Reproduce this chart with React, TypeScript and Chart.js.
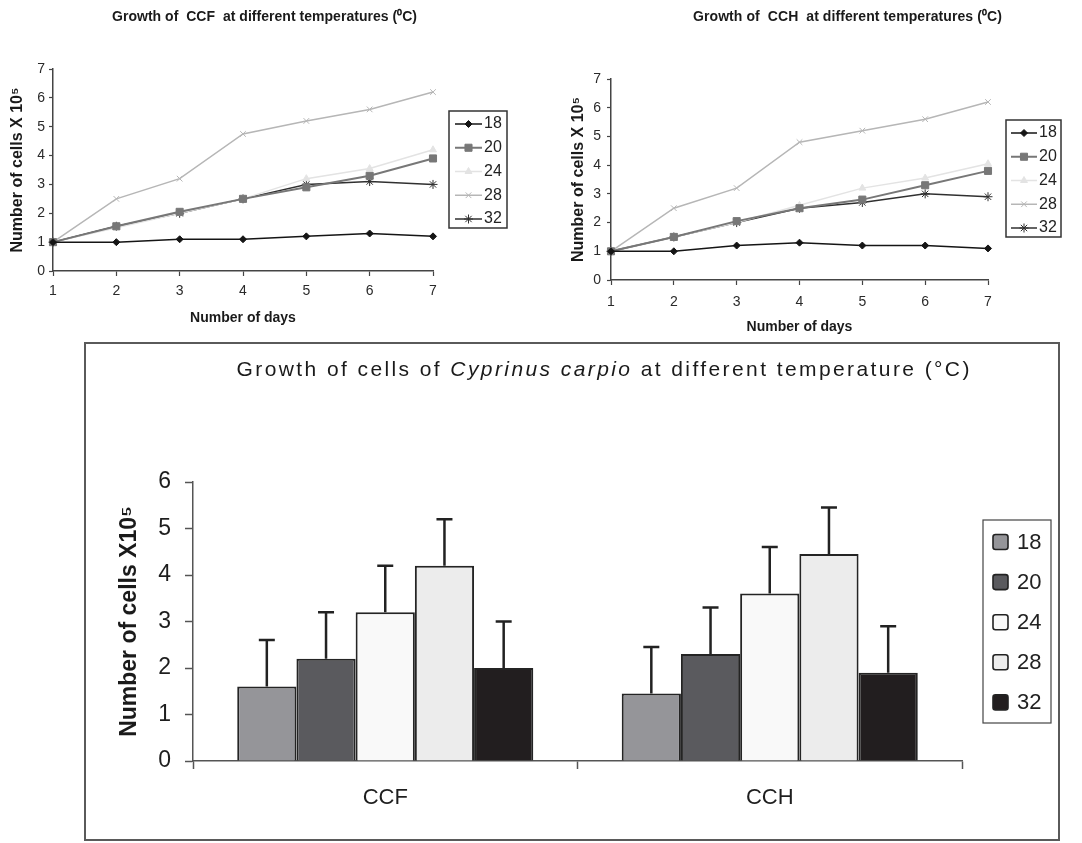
import React, { useEffect, useRef } from "react";
import { Chart, registerables } from "chart.js";
import { drawPoint } from "chart.js/helpers";

Chart.register(...registerables);

const FONT = "'Liberation Sans', Arial, Helvetica, sans-serif";

// ---------- data ----------
const days = ["1", "2", "3", "4", "5", "6", "7"];
const temperatures = ["18", "20", "24", "28", "32"];

// CCF growth (cells x 10^5) per day
const ccf18 = [1.0, 1.0, 1.1, 1.1, 1.2, 1.3, 1.2];
const ccf20 = [1.0, 1.55, 2.05, 2.5, 2.9, 3.3, 3.9];
const ccf24 = [1.0, 1.5, 2.0, 2.5, 3.2, 3.55, 4.2];
const ccf28 = [1.0, 2.5, 3.2, 4.75, 5.2, 5.6, 6.2];
const ccf32 = [1.0, 1.55, 2.0, 2.5, 3.0, 3.1, 3.0];

// CCH growth (cells x 10^5) per day
const cch18 = [1.0, 1.0, 1.2, 1.3, 1.2, 1.2, 1.1];
const cch20 = [1.0, 1.5, 2.05, 2.5, 2.8, 3.3, 3.8];
const cch24 = [1.0, 1.5, 2.0, 2.6, 3.2, 3.55, 4.05];
const cch28 = [1.0, 2.5, 3.2, 4.8, 5.2, 5.6, 6.2];
const cch32 = [1.0, 1.5, 2.0, 2.5, 2.7, 3.0, 2.9];

// Bar chart: mean cells x 10^5 per cell line
const cellLines = ["CCF", "CCH"];
const bar18 = [1.6, 1.45];
const bar20 = [2.2, 2.3];
const bar24 = [3.2, 3.6];
const bar28 = [4.2, 4.45];
const bar32 = [2.0, 1.9];
const err18 = [1.0, 1.0];
const err20 = [1.0, 1.0];
const err24 = [1.0, 1.0];
const err28 = [1.0, 1.0];
const err32 = [1.0, 1.0];

const ccfSeries = [ccf18, ccf20, ccf24, ccf28, ccf32];
const cchSeries = [cch18, cch20, cch24, cch28, cch32];
const barSeries = [bar18, bar20, bar24, bar28, bar32];
const barErrors = [err18, err20, err24, err28, err32];

// ---------- styles ----------
const lineStyles = [
  { color: "#151515", pointStyle: "rectRot", radius: 3.5, width: 1.5 },
  { color: "#777777", pointStyle: "rect", radius: 5, width: 2 },
  { color: "#e3e3e3", pointStyle: "triangle", radius: 4, width: 1.5 },
  { color: "#b6b6b6", pointStyle: "crossRot", radius: 4, width: 1.5 },
  { color: "#303030", pointStyle: "star", radius: 4.5, width: 1.5 },
];
const barColors = ["#959599", "#5a5a5e", "#f9f9f9", "#ececec", "#221e1f"];

type Seg = { text: string; font: string };

function titlePlugin(segments: Seg[], cx: number, cy: number, targetWidth: number, color: string) {
  return {
    id: "richTitle",
    afterDraw(chart: any) {
      const ctx = chart.ctx as CanvasRenderingContext2D;
      ctx.save();
      ctx.textBaseline = "middle";
      ctx.textAlign = "left";
      ctx.fillStyle = color;
      (ctx as any).letterSpacing = "0px";
      let base = 0;
      let n = 0;
      for (const s of segments) {
        ctx.font = s.font;
        base += ctx.measureText(s.text).width;
        n += s.text.length;
      }
      const sp = (targetWidth - base) / n;
      (ctx as any).letterSpacing = sp.toFixed(2) + "px";
      let x = cx - targetWidth / 2;
      for (const s of segments) {
        ctx.font = s.font;
        ctx.fillText(s.text, x, cy);
        x += ctx.measureText(s.text).width;
      }
      ctx.restore();
    },
  };
}

type LegendBox = {
  x: number; y: number; w: number; h: number;
  first: number; step: number; lineX0: number; lineX1: number; textX: number; fontSize: number;
};

function lineLegendPlugin(b: LegendBox) {
  return {
    id: "lineLegend",
    afterDraw(chart: any) {
      const ctx = chart.ctx as CanvasRenderingContext2D;
      ctx.save();
      ctx.strokeStyle = "#333";
      ctx.lineWidth = 1.5;
      ctx.strokeRect(b.x, b.y, b.w, b.h);
      chart.data.datasets.forEach((ds: any, i: number) => {
        const y = b.y + b.first + i * b.step;
        ctx.strokeStyle = ds.borderColor;
        ctx.lineWidth = ds.borderWidth;
        ctx.beginPath();
        ctx.moveTo(b.x + b.lineX0, y);
        ctx.lineTo(b.x + b.lineX1, y);
        ctx.stroke();
        ctx.fillStyle = ds.pointBackgroundColor;
        ctx.strokeStyle = ds.pointBorderColor;
        ctx.lineWidth = 1;
        drawPoint(ctx, { pointStyle: ds.pointStyle, radius: ds.pointRadius, rotation: 0, borderWidth: 1 } as any,
          b.x + (b.lineX0 + b.lineX1) / 2, y);
        ctx.fillStyle = "#222";
        ctx.font = `${b.fontSize}px ${FONT}`;
        ctx.textBaseline = "middle";
        ctx.textAlign = "left";
        ctx.fillText(ds.label, b.x + b.textX, y);
      });
      ctx.restore();
    },
  };
}

function barLegendPlugin(b: { x: number; y: number; w: number; h: number; first: number; step: number; sq: number; sqX: number; textX: number; fontSize: number }) {
  return {
    id: "barLegend",
    afterDraw(chart: any) {
      const ctx = chart.ctx as CanvasRenderingContext2D;
      ctx.save();
      ctx.strokeStyle = "#444";
      ctx.lineWidth = 1.2;
      ctx.strokeRect(b.x, b.y, b.w, b.h);
      chart.data.datasets.forEach((ds: any, i: number) => {
        const y = b.y + b.first + i * b.step;
        ctx.beginPath();
        (ctx as any).roundRect(b.x + b.sqX, y - b.sq / 2, b.sq, b.sq, 2.5);
        ctx.fillStyle = ds.backgroundColor;
        ctx.fill();
        ctx.strokeStyle = "#222";
        ctx.lineWidth = 1.6;
        ctx.stroke();
        ctx.fillStyle = "#222";
        ctx.font = `${b.fontSize}px ${FONT}`;
        ctx.textBaseline = "middle";
        ctx.textAlign = "left";
        ctx.fillText(ds.label, b.x + b.textX, y + 1);
      });
      ctx.restore();
    },
  };
}

function errorBarPlugin(errors: number[][]) {
  return {
    id: "errorBars",
    afterDatasetsDraw(chart: any) {
      const ctx = chart.ctx as CanvasRenderingContext2D;
      const yScale = chart.scales.y;
      ctx.save();
      ctx.strokeStyle = "#222";
      ctx.lineWidth = 2.5;
      chart.data.datasets.forEach((ds: any, i: number) => {
        const meta = chart.getDatasetMeta(i);
        meta.data.forEach((el: any, j: number) => {
          const v = ds.data[j] as number;
          const e = errors[i][j];
          const x = el.x;
          const y0 = yScale.getPixelForValue(v);
          const y1 = yScale.getPixelForValue(v + e);
          ctx.beginPath();
          ctx.moveTo(x, y0);
          ctx.lineTo(x, y1);
          ctx.moveTo(x - 8, y1);
          ctx.lineTo(x + 8, y1);
          ctx.stroke();
        });
      });
      ctx.restore();
    },
  };
}

type LineGeom = {
  padTop: number; padRight: number; yWidth: number; xHeight: number;
  yTitlePad: number; yTickPad: number; xTickPad: number; xTitlePad: number;
};

function makeLineChart(canvas: HTMLCanvasElement, series: number[][], g: LineGeom, plugins: any[]) {
  return new Chart(canvas, {
    type: "line",
    data: {
      labels: days,
      datasets: temperatures.map((t, i) => ({
        label: t,
        data: series[i],
        borderColor: lineStyles[i].color,
        backgroundColor: lineStyles[i].color,
        pointBackgroundColor: lineStyles[i].color,
        pointBorderColor: lineStyles[i].color,
        pointStyle: lineStyles[i].pointStyle as any,
        pointRadius: lineStyles[i].radius,
        pointBorderWidth: 1,
        borderWidth: lineStyles[i].width,
        tension: 0,
        fill: false,
      })),
    },
    options: {
      responsive: false,
      animation: false,
      devicePixelRatio: 1,
      layout: { padding: { left: 0, top: g.padTop, right: g.padRight, bottom: 0 } },
      plugins: { legend: { display: false }, title: { display: false }, tooltip: { enabled: false } },
      scales: {
        x: {
          type: "category",
          offset: false,
          grid: { display: true, drawOnChartArea: false, drawTicks: true, tickLength: 5, color: "#444", tickColor: "#444", tickWidth: 1.2 },
          border: { display: true, color: "#444", width: 1.5 },
          ticks: { font: { family: FONT, size: 14 }, color: "#2a2a2a", padding: g.xTickPad, maxRotation: 0, autoSkip: false },
          title: { display: true, text: "Number of days", font: { family: FONT, size: 14, weight: "bold" }, color: "#1a1a1a", padding: { top: 0, bottom: g.xTitlePad } },
          afterFit(s: any) { s.height = g.xHeight; },
        },
        y: {
          min: 0,
          max: 7,
          grid: { display: true, drawOnChartArea: false, drawTicks: true, tickLength: 4, color: "#444", tickColor: "#444", tickWidth: 1.2 },
          border: { display: true, color: "#444", width: 1.5 },
          ticks: { stepSize: 1, font: { family: FONT, size: 14 }, color: "#2a2a2a", padding: g.yTickPad },
          title: { display: true, text: "Number of cells X 10⁵", font: { family: FONT, size: 16, weight: "bold" }, color: "#1a1a1a", padding: { top: g.yTitlePad, bottom: 0 } },
          afterFit(s: any) { s.width = g.yWidth; },
        },
      } as any,
    },
    plugins,
  });
}

export default function App() {
  const r1 = useRef<HTMLCanvasElement>(null);
  const r2 = useRef<HTMLCanvasElement>(null);
  const r3 = useRef<HTMLCanvasElement>(null);

  useEffect(() => {
    const charts: Chart[] = [];
    const topTitleFont = `bold 14px ${FONT}`;

    charts.push(
      makeLineChart(r1.current!, ccfSeries,
        { padTop: 69, padRight: 107, yWidth: 53, xHeight: 69, yTitlePad: 8, yTickPad: 4, xTickPad: 7, xTitlePad: 13 },
        [
          titlePlugin([{ text: "Growth of  CCF  at different temperatures (⁰C)", font: topTitleFont }], 264.5, 17, 305, "#1a1a1a"),
          lineLegendPlugin({ x: 449, y: 111, w: 58, h: 117, first: 13, step: 23.75, lineX0: 6, lineX1: 33, textX: 35, fontSize: 16 }),
        ])
    );

    charts.push(
      makeLineChart(r2.current!, cchSeries,
        { padTop: 79, padRight: 94, yWidth: 54, xHeight: 65, yTitlePad: 12, yTickPad: 6, xTickPad: 9, xTitlePad: 9 },
        [
          titlePlugin([{ text: "Growth of  CCH  at different temperatures (⁰C)", font: topTitleFont }], 290.5, 17, 309, "#1a1a1a"),
          lineLegendPlugin({ x: 449, y: 120, w: 55, h: 117, first: 13, step: 23.75, lineX0: 5, lineX1: 31, textX: 33, fontSize: 16 }),
        ])
    );

    charts.push(
      new Chart(r3.current!, {
        type: "bar",
        data: {
          labels: cellLines,
          datasets: temperatures.map((t, i) => ({
            label: t,
            data: barSeries[i],
            backgroundColor: barColors[i],
            borderColor: "#242424",
            borderWidth: 2,
            borderSkipped: "bottom",
            categoryPercentage: 0.77,
            barPercentage: 1,
          })),
        },
        options: {
          responsive: false,
          animation: false,
          devicePixelRatio: 1,
          layout: { padding: { left: 0, top: 138, right: 96, bottom: 0 } },
          plugins: { legend: { display: false }, title: { display: false }, tooltip: { enabled: false } },
          scales: {
            x: {
              offset: true,
              grid: { display: true, offset: true, drawOnChartArea: false, drawTicks: true, tickLength: 8, color: "#555", tickColor: "#555", tickWidth: 1.5 },
              border: { display: true, color: "#555", width: 1.5 },
              ticks: { font: { family: FONT, size: 22 }, color: "#1e1e1e", padding: 16 },
              afterFit(s: any) { s.height = 78; },
            },
            y: {
              min: 0,
              max: 6,
              grid: { display: true, drawOnChartArea: false, drawTicks: true, tickLength: 8, color: "#555", tickColor: "#555", tickWidth: 1.5 },
              border: { display: true, color: "#555", width: 1.5 },
              ticks: { stepSize: 1, font: { family: FONT, size: 23 }, color: "#1e1e1e", padding: 14 },
              title: { display: true, text: "Number of cells X10⁵", font: { family: FONT, size: 23, weight: "bold" }, color: "#1a1a1a", padding: { top: 30, bottom: 0 } },
              afterFit(s: any) { s.width = 107; },
            },
          } as any,
        },
        plugins: [
          errorBarPlugin(barErrors),
          titlePlugin(
            [
              { text: "Growth of cells of ", font: `21px ${FONT}` },
              { text: "Cyprinus carpio", font: `italic 21px ${FONT}` },
              { text: " at different temperature (°C)", font: `21px ${FONT}` },
            ],
            518, 26, 735, "#1a1a1a"
          ),
          barLegendPlugin({ x: 897, y: 176, w: 68, h: 203, first: 22, step: 40.1, sq: 15, sqX: 10, textX: 34, fontSize: 22 }),
        ],
      })
    );

    return () => charts.forEach((c) => c.destroy());
  }, []);

  return (
    <div style={{ position: "absolute", left: 0, top: 0, width: 1082, height: 843, background: "#ffffff", overflow: "hidden" }}>
      <canvas ref={r1} width={540} height={340} style={{ position: "absolute", left: 0, top: 0 }} />
      <canvas ref={r2} width={525} height={345} style={{ position: "absolute", left: 557, top: 0 }} />
      <div style={{ position: "absolute", left: 84, top: 342, width: 972, height: 495, border: "2px solid #5a5a5a" }}>
        <canvas ref={r3} width={972} height={495} style={{ position: "absolute", left: 0, top: 0 }} />
      </div>
    </div>
  );
}
